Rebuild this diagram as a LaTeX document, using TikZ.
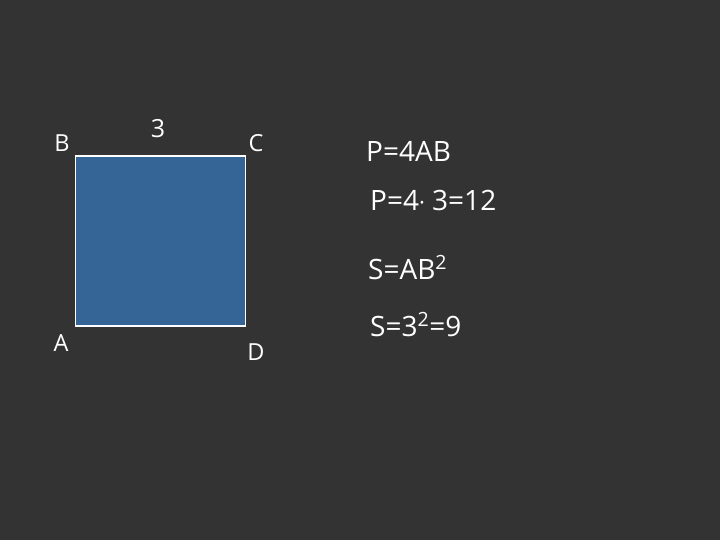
\documentclass[tikz,border=0pt]{standalone}
\usepackage{fontspec}
\setmainfont{Open Sans}
\definecolor{bgc}{RGB}{51,51,51}
\definecolor{sqc}{RGB}{52,101,150}
\begin{document}
\begin{tikzpicture}[x=1pt,y=-1pt,
  lbl/.style={text=white,inner sep=0pt,anchor=base,font=\fontsize{23.5}{26}\selectfont},
  frm/.style={text=white,inner sep=0pt,anchor=base west,font=\fontsize{28}{31}\selectfont}]
\fill[bgc] (0,0) rectangle (720,540);
\useasboundingbox (0,0) rectangle (720,540);
\node[draw=white,line width=1.2pt,fill=sqc,minimum width=170pt,minimum height=170pt,inner sep=0pt] (sq) at (160.5,241) {};
\node[lbl] (B) at (62,152) {B};
\node[lbl,font=\fontsize{25}{28}\selectfont] (t3) at (158,138) {3};
\node[lbl] (C) at (256,152) {C};
\node[lbl] (A) at (61,351) {A};
\node[lbl] (D) at (256,360) {D};
\node[frm] (f1) at (366,162) {P=4AB};
\node[frm] (f2) at (370,211) {P=4{\fontsize{22}{24}\selectfont·} 3=12};
\node[frm] (f3) at (368,279) {S=AB\textsuperscript{2}};
\node[frm] (f4) at (370,336) {S=3\textsuperscript{2}=9};
\end{tikzpicture}
\end{document}
